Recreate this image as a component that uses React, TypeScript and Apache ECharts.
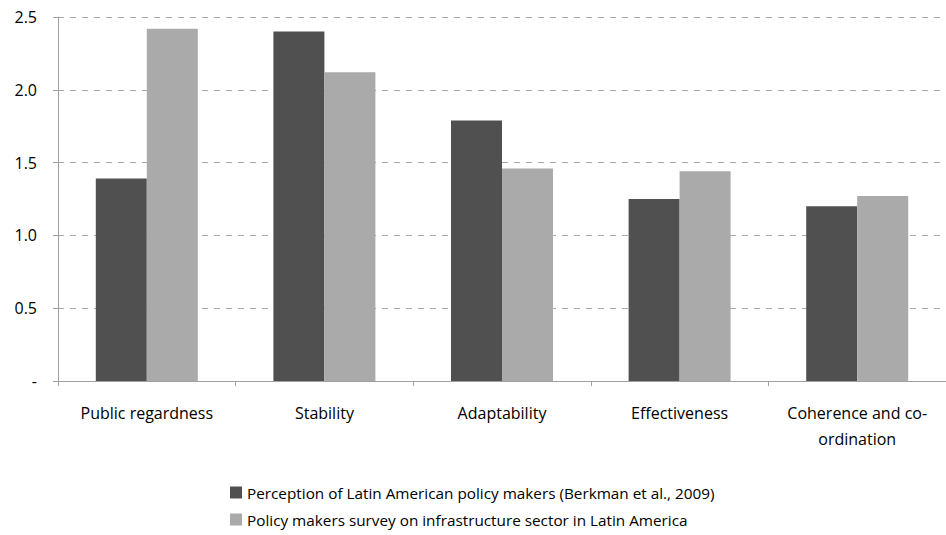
import React, { useEffect, useRef } from "react";
import * as echarts from "echarts";

const categories = ["Public regardness", "Stability", "Adaptability", "Effectiveness", "Coherence and co-\nordination"];
const seriesNames = [
  "Perception of Latin American policy makers (Berkman et al., 2009)",
  "Policy makers survey on infrastructure sector in Latin America",
];
const perceptionValues = [1.39, 2.4, 1.79, 1.25, 1.2];
const surveyValues = [2.42, 2.12, 1.46, 1.44, 1.27];
const yTicks = [0, 0.5, 1.0, 1.5, 2.0, 2.5];

const FONT = "'Open Sans', Lato, sans-serif";

export default function App() {
  const ref = useRef<HTMLDivElement>(null);
  useEffect(() => {
    if (!ref.current) return;
    const chart = echarts.init(ref.current, null, { renderer: "svg" });
    chart.setOption({
      animation: false,
      backgroundColor: "#ffffff",
      grid: { left: 58, top: 17, bottom: 154, right: -7, containLabel: false },
      legend: {
        orient: "vertical",
        left: 225,
        top: 480,
        itemWidth: 12,
        itemHeight: 12,
        itemGap: 12,
        icon: "rect",
        textStyle: { fontFamily: FONT, fontSize: 15.3, color: "#000" },
        data: seriesNames,
      },
      xAxis: {
        type: "category",
        data: categories,
        axisLine: { lineStyle: { color: "#a0a0a0", width: 1 } },
        axisTick: { show: true, length: 5, alignWithLabel: false, lineStyle: { color: "#a0a0a0" } },
        axisLabel: { margin: 19, fontFamily: FONT, fontSize: 16, color: "#000", lineHeight: 26, interval: 0 },
      },
      yAxis: {
        type: "value",
        min: 0,
        max: 2.5,
        interval: 0.5,
        axisLine: { show: true, lineStyle: { color: "#a0a0a0", width: 1 } },
        axisTick: { show: true, length: 5, lineStyle: { color: "#a0a0a0" } },
        splitLine: { show: true, lineStyle: { color: "#a8a8a8", type: [6, 6], width: 1 } },
        axisLabel: {
          margin: 21,
          fontFamily: FONT,
          fontSize: 16,
          color: "#000",
          formatter: (v: number) => (v === 0 ? "-" : yTicks.includes(v) ? v.toFixed(1) : ""),
        },
      },
      series: [
        {
          name: seriesNames[0],
          type: "bar",
          data: perceptionValues,
          barWidth: 51,
          barGap: "0%",
          itemStyle: { color: "#505050" },
        },
        {
          name: seriesNames[1],
          type: "bar",
          data: surveyValues,
          barWidth: 51,
          barGap: "0%",
          itemStyle: { color: "#aaaaaa" },
        },
      ],
    });
    return () => chart.dispose();
  }, []);
  return (
    <div
      ref={ref}
      style={{ position: "fixed", left: 0, top: 0, width: 946, height: 535, background: "#fff" }}
    />
  );
}
